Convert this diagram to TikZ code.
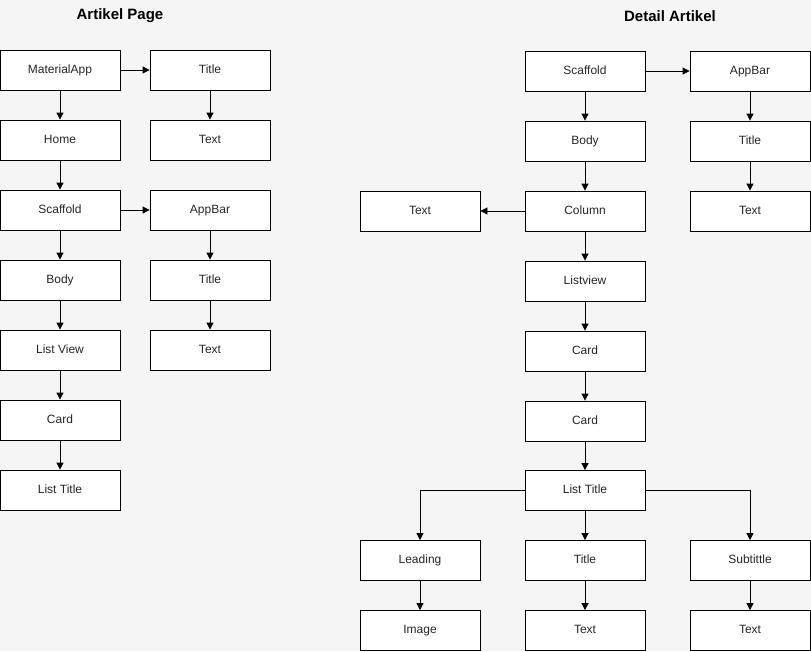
\documentclass[tikz,border=0pt]{standalone}
\usepackage{fontspec}
\setmainfont{Liberation Sans}
\usetikzlibrary{arrows.meta}
\begin{document}
\begin{tikzpicture}[x=1pt,y=-1pt,
  box/.style={draw=black,fill=white,line width=0.8pt,minimum width=120pt,minimum height=40pt,inner sep=0pt,text height=8.6pt,text depth=2.6pt,font=\fontsize{12}{14}\selectfont,text=black!85},
  arr/.style={draw=black,line width=0.8pt,-{Triangle[length=7pt,width=7pt]}},
  ttl/.style={font=\fontsize{15}{18}\selectfont\bfseries}]
\fill[black!4] (0,0) rectangle (811,651);
\useasboundingbox (0,0) rectangle (811,651);
\node[ttl] (t1) at (120,16) {Artikel Page};
\node[ttl] (t2) at (670,16) {Detail Artikel};
% left
\node[box] (ma) at (60,70) {MaterialApp};
\node[box] (home) at (60,140) {Home};
\node[box] (sc1) at (60,210) {Scaffold};
\node[box] (bd1) at (60,280) {Body};
\node[box] (lv1) at (60,350) {List View};
\node[box] (cd1) at (60,420) {Card};
\node[box] (lt1) at (60,490) {List Title};
\node[box] (ti1) at (210,70) {Title};
\node[box] (tx1) at (210,140) {Text};
\node[box] (ab1) at (210,210) {AppBar};
\node[box] (ti2) at (210,280) {Title};
\node[box] (tx2) at (210,350) {Text};
\draw[arr] (ma) -- (ti1);
\draw[arr] (ma) -- (home);
\draw[arr] (home) -- (sc1);
\draw[arr] (sc1) -- (bd1);
\draw[arr] (bd1) -- (lv1);
\draw[arr] (lv1) -- (cd1);
\draw[arr] (cd1) -- (lt1);
\draw[arr] (ti1) -- (tx1);
\draw[arr] (sc1) -- (ab1);
\draw[arr] (ab1) -- (ti2);
\draw[arr] (ti2) -- (tx2);
% right
\node[box] (sc2) at (585,71) {Scaffold};
\node[box] (bd2) at (585,141) {Body};
\node[box] (col) at (585,211) {Column};
\node[box] (lv2) at (585,281) {Listview};
\node[box] (cd2) at (585,351) {Card};
\node[box] (cd3) at (585,421) {Card};
\node[box] (lt2) at (585,490.5) {List Title};
\node[box] (ab2) at (750,71) {AppBar};
\node[box] (ti3) at (750,141) {Title};
\node[box] (tx3) at (750,211) {Text};
\node[box] (tx4) at (420,211) {Text};
\node[box] (ld) at (420,560.5) {Leading};
\node[box] (ti4) at (585,560.5) {Title};
\node[box] (st) at (750,560.5) {Subtittle};
\node[box] (im) at (420,630.5) {Image};
\node[box] (tx5) at (585,630.5) {Text};
\node[box] (tx6) at (750,630.5) {Text};
\draw[arr] (sc2) -- (ab2);
\draw[arr] (sc2) -- (bd2);
\draw[arr] (bd2) -- (col);
\draw[arr] (col) -- (tx4);
\draw[arr] (col) -- (lv2);
\draw[arr] (lv2) -- (cd2);
\draw[arr] (cd2) -- (cd3);
\draw[arr] (cd3) -- (lt2);
\draw[arr] (ab2) -- (ti3);
\draw[arr] (ti3) -- (tx3);
\draw[arr] (lt2.west) -| (ld.north);
\draw[arr] (lt2) -- (ti4);
\draw[arr] (lt2.east) -| (st.north);
\draw[arr] (ld) -- (im);
\draw[arr] (ti4) -- (tx5);
\draw[arr] (st) -- (tx6);
\end{tikzpicture}
\end{document}
